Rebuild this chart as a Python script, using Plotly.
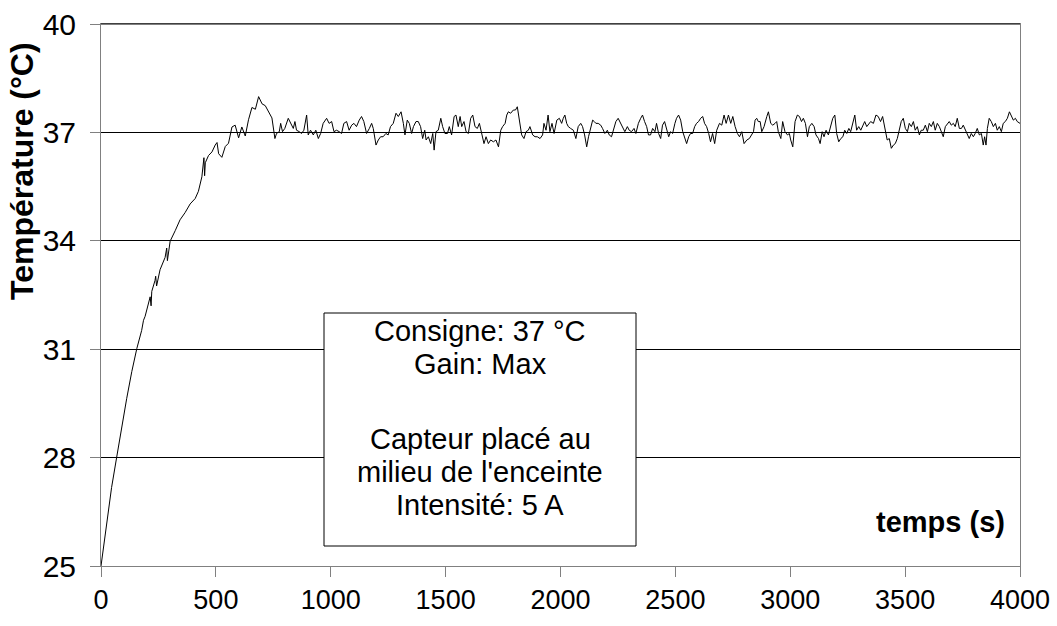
import plotly.graph_objects as go

# Time (s) and temperature (°C)
temps_s = [
    0, 25, 46, 68, 90, 112, 134, 156, 177, 185, 192, 206, 214, 218, 221, 235, 238, 242,
    257, 279, 286, 289, 301, 323, 344, 366, 388, 410, 424, 439, 448, 451, 454, 468,
    483, 497, 505, 512, 526, 541, 555, 570, 584, 599, 613, 628, 642, 657, 672, 686,
    701, 715, 730, 744, 757,
    764, 776, 782, 790, 800, 815, 825, 837, 844, 851, 863, 873, 883, 895, 902, 912,
    924, 935, 946, 956, 967, 982, 993, 1004, 1014, 1025, 1037, 1047, 1057, 1069, 1080,
    1091, 1101, 1112, 1124, 1134, 1144, 1156, 1168, 1178, 1185, 1197, 1207, 1217, 1228,
    1240, 1250, 1260, 1272, 1284, 1294,
    1306, 1316, 1323, 1333, 1342, 1352, 1360, 1371, 1381, 1391, 1400, 1409, 1415, 1425,
    1435, 1444, 1450, 1458, 1468, 1479, 1487, 1497, 1508, 1516, 1526, 1537, 1545, 1555,
    1563, 1570, 1580, 1589, 1599, 1609, 1618, 1628, 1638, 1647, 1657, 1667, 1676, 1686,
    1696, 1708, 1719, 1730, 1740, 1748, 1759, 1766, 1773, 1783, 1795, 1804, 1812, 1821,
    1831, 1841, 1850, 1860, 1867, 1879, 1889, 1899, 1911, 1922, 1928, 1937, 1946, 1954,
    1963, 1972, 1984, 1995,
    2005, 2012, 2019, 2027, 2034, 2044, 2056, 2067, 2077, 2088, 2096, 2105, 2114, 2122,
    2131, 2140, 2147, 2154, 2164, 2175, 2183, 2193, 2204, 2212, 2222, 2233, 2241, 2251,
    2262, 2270, 2280, 2291, 2299, 2309, 2320, 2328, 2339, 2349, 2357, 2366, 2375, 2383,
    2392, 2401, 2411, 2418, 2427, 2436, 2444, 2453, 2462, 2471, 2479, 2488, 2498, 2505,
    2514, 2523, 2532, 2540, 2549, 2558, 2566, 2575, 2584, 2592, 2601, 2610, 2619, 2627,
    2636, 2645, 2653,
    2662, 2671, 2680, 2692, 2702, 2712, 2721, 2731, 2741, 2750, 2760, 2770, 2779, 2789,
    2799, 2811, 2822, 2832, 2840, 2847, 2854, 2861, 2869, 2876, 2886, 2898, 2905, 2915,
    2924, 2934, 2941, 2948, 2959, 2967, 2977, 2988, 2996, 3002, 3011, 3021, 3031, 3040,
    3049, 3057, 3066, 3075, 3083, 3094, 3104, 3112, 3123, 3130, 3139, 3147, 3156, 3166,
    3176, 3185, 3194, 3202, 3211, 3220, 3229, 3237, 3246, 3255, 3263, 3272, 3281, 3289,
    3298, 3307, 3316, 3324, 3333, 3342, 3350, 3362,
    3373, 3383, 3393, 3402, 3411, 3417, 3422, 3431, 3440, 3449, 3457, 3466, 3475, 3483,
    3492, 3501, 3510, 3518, 3527, 3536, 3544, 3553, 3562, 3570, 3579, 3588, 3597, 3605,
    3614, 3623, 3631, 3640, 3649, 3658, 3666, 3675, 3684, 3692, 3701, 3710, 3718, 3727,
    3736, 3745, 3753, 3762, 3771, 3779, 3788, 3797, 3805, 3814, 3823, 3832, 3840, 3846,
    3852, 3858, 3866, 3875, 3884, 3893, 3901, 3910, 3919, 3927, 3936, 3945, 3954, 3962,
    3971, 3980, 3988, 4000,
]

temperature_c = [
    25.0, 26.2, 27.17, 28.0, 28.85, 29.64, 30.38, 31.02, 31.52, 31.8, 31.91, 32.31, 32.45, 32.2, 32.6, 32.9, 33.02, 32.75,
    33.2, 33.54, 33.8, 33.45, 33.99, 34.28, 34.58, 34.78, 35.02, 35.17, 35.37, 35.77, 36.3, 35.8, 36.16, 36.36,
    36.46, 36.65, 36.72, 36.41, 36.31, 36.61, 36.7, 37.15, 37.2, 36.85, 37.15, 36.9, 37.35, 37.69, 37.64, 37.99,
    37.79, 37.74, 37.54, 37.4, 36.83,
    36.97, 37.02, 37.25, 37.02, 37.11, 37.39, 37.25, 37.11, 37.30, 37.06, 37.02, 36.97, 37.06, 37.48, 36.93, 37.06,
    36.93, 37.06, 36.83, 36.97, 37.25, 37.39, 37.25, 37.30, 37.02, 37.06, 37.02, 36.97, 37.25, 37.30, 37.06,
    37.20, 37.25, 37.16, 37.34, 37.44, 37.30, 36.97, 37.11, 37.25, 37.11, 36.65, 36.79, 36.88, 36.88,
    36.97, 36.93, 37.16, 37.25, 37.53, 37.44,
    37.57, 37.25, 36.93, 37.34, 37.25, 36.97, 37.16, 37.30, 37.30, 37.16, 36.83, 37.06, 36.79, 36.88,
    36.69, 36.97, 36.51, 37.02, 37.06, 37.39, 37.16, 36.97, 36.97, 37.16, 36.93, 37.44, 37.48, 37.16,
    37.44, 37.16, 37.30, 37.02, 36.97, 37.39, 37.48, 37.16, 37.11, 37.25, 36.97, 36.69, 36.88, 36.69,
    36.79, 36.74, 36.79, 36.60, 37.06, 37.16, 37.25, 37.48, 37.57, 37.53, 37.62, 37.62, 37.71, 37.34,
    36.93, 36.83, 37.02, 37.06, 37.16, 36.93, 36.88, 36.88, 36.83, 36.93, 37.25, 37.06, 37.48, 37.02,
    37.25, 36.97, 37.34, 37.39,
    37.25, 37.39, 37.48, 37.25, 37.16, 37.11, 37.06, 36.83, 37.16, 37.25, 37.16, 36.93, 36.60, 36.88,
    37.16, 37.34, 37.30, 37.25, 37.25, 37.20, 37.11, 36.97, 37.06, 36.93, 36.88, 37.11, 37.30, 37.39,
    37.25, 37.11, 37.02, 37.16, 37.06, 37.02, 37.11, 36.97, 37.25, 37.39, 37.48, 37.30, 37.16, 36.93,
    36.93, 37.11, 37.02, 37.25, 36.97, 36.83, 37.20, 37.30, 37.06, 36.88, 37.02, 36.97, 37.25, 37.39,
    37.48, 37.34, 37.02, 36.88, 36.69, 36.88, 36.97, 36.97, 37.16, 37.25, 37.30, 37.39, 37.44, 37.25,
    37.16, 36.97, 36.74,
    36.97, 36.69, 37.06, 37.25, 37.20, 37.48, 37.25, 37.48, 37.25, 37.44, 37.16, 36.97, 36.88, 37.02,
    36.69, 36.79, 36.83, 36.93, 37.02, 37.34, 37.39, 37.30, 37.30, 37.02, 37.16, 37.44, 37.57, 37.25,
    37.20, 37.25, 37.30, 37.02, 36.83, 37.30, 37.02, 36.93, 36.97, 36.79, 36.60, 37.30, 37.48, 37.44,
    37.30, 37.39, 37.25, 36.88, 37.16, 37.25, 37.16, 36.93, 36.83, 36.69, 37.02, 36.88, 37.06, 36.93,
    37.20, 37.39, 37.48, 36.97, 36.74, 36.83, 36.88, 37.06, 36.97, 37.11, 37.02, 37.25, 37.48, 37.06,
    37.16, 37.06, 37.20, 37.30, 37.16, 37.25, 37.30, 37.25,
    37.48, 37.44, 37.30, 37.44, 37.16, 36.88, 36.79, 36.83, 36.56, 36.65, 36.69, 36.83, 37.06, 37.30,
    37.39, 37.11, 37.02, 37.25, 37.16, 37.30, 37.06, 37.16, 36.93, 37.06, 37.06, 37.20, 37.02, 37.25,
    37.16, 37.30, 37.06, 37.25, 37.16, 37.02, 36.88, 37.16, 37.25, 37.30, 37.20, 37.25, 37.16, 37.39,
    37.11, 37.11, 37.20, 37.06, 36.93, 36.83, 36.97, 36.88, 36.97, 37.11, 36.93, 36.97, 36.65, 36.88,
    36.65, 37.11, 37.39, 37.30, 37.16, 37.25, 37.06, 37.16, 37.02, 37.25, 37.30, 37.39, 37.57, 37.44,
    37.34, 37.39, 37.30, 37.25,
]

x_ticks = [0, 500, 1000, 1500, 2000, 2500, 3000, 3500, 4000]
y_ticks = [25, 28, 31, 34, 37, 40]

y_title = "Température (°C)"
x_title = "temps (s)"
note_lines = ["Consigne: 37 °C", "Gain: Max", "Capteur placé au",
              "milieu de l'enceinte", "Intensité: 5 A"]

FONT = "Liberation Sans, Arial, sans-serif"

# plot area in pixels (for placing layout items)
PL, PR, PT, PB = 101, 1020, 24, 566


def px_x(x):
    return (x - PL) / (PR - PL)


def px_y(y):
    return (PB - y) / (PB - PT)


note_y_px = [331, 364, 439, 472, 505]

fig = go.Figure()
fig.add_trace(go.Scatter(x=temps_s, y=temperature_c, mode="lines",
                         line=dict(color="black", width=1), showlegend=False,
                         hoverinfo="skip"))

annotations = [
    dict(text="<b>%s</b>" % y_title, textangle=-90, xref="paper", yref="paper",
         x=px_x(22), y=px_y(171), xanchor="center", yanchor="middle", showarrow=False,
         font=dict(family=FONT, size=32, color="black")),
    dict(text="<b>%s</b>" % x_title, xref="paper", yref="paper",
         x=px_x(940), y=px_y(522), xanchor="center", yanchor="middle", showarrow=False,
         font=dict(family=FONT, size=29, color="black")),
]
for line, ypx in zip(note_lines, note_y_px):
    annotations.append(dict(text=line, xref="paper", yref="paper",
                            x=px_x(480), y=px_y(ypx), xanchor="center", yanchor="middle",
                            showarrow=False,
                            font=dict(family=FONT, size=29, color="black")))

fig.update_layout(
    width=1057, height=626, autosize=False,
    margin=dict(l=PL, r=1057 - PR, t=PT, b=626 - PB, autoexpand=False),
    paper_bgcolor="white", plot_bgcolor="white",
    font=dict(family=FONT, color="black", size=27),
    xaxis=dict(range=[0, 4000], tickvals=x_ticks, ticks="outside", ticklen=10,
               tickcolor="#808080", showline=True, linecolor="#808080", linewidth=1,
               mirror=True, showgrid=False, zeroline=False, automargin=False,
               tickfont=dict(family=FONT, size=27, color="black")),
    yaxis=dict(range=[25, 40], tickvals=y_ticks, ticks="outside", ticklen=10,
               tickcolor="#808080", showline=True, linecolor="#808080", linewidth=1,
               mirror=True, showgrid=True, gridcolor="black", gridwidth=1, zeroline=False,
               ticklabelstandoff=8, automargin=False,
               tickfont=dict(family=FONT, size=30, color="black")),
    shapes=[
        dict(type="rect", xref="paper", yref="paper",
             x0=px_x(324), x1=px_x(636), y0=px_y(546), y1=px_y(313),
             line=dict(color="black", width=1), fillcolor="white", layer="above"),
        dict(type="line", xref="paper", yref="paper", x0=0, x1=1, y0=1, y1=1,
             line=dict(color="black", width=1), layer="above"),
    ],
    annotations=annotations,
)

fig.write_html("out.html", config={"displayModeBar": False},
               post_script="document.body.style.margin='0';")
